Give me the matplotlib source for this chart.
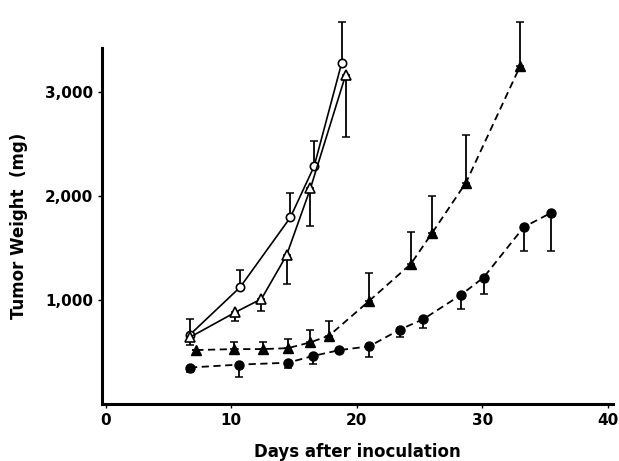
import numpy as np
import matplotlib
matplotlib.use('Agg')
import matplotlib.pyplot as plt
from matplotlib.ticker import FuncFormatter

plt.rcParams['font.family'] = ['Liberation Sans Narrow', 'DejaVu Sans']

# open circles, solid line (error bars up)
oc_x = [6.7, 10.7, 14.7, 16.6, 18.8]
oc_y = [665, 1121, 1791, 2284, 3279]
oc_up = [150, 167, 232, 242, 390]

# open triangles, solid line (error bars down)
ot_x = [6.7, 10.3, 12.4, 14.4, 16.3, 19.1]
ot_y = [640, 879, 1009, 1428, 2070, 3158]
ot_dn = [70, 84, 121, 279, 363, 595]

# filled triangles, dashed line (error bars up)
ft_x = [7.2, 10.2, 12.5, 14.5, 16.3, 17.8, 21.0, 24.3, 26.0, 28.7, 33.0]
ft_y = [517, 526, 526, 535, 591, 656, 991, 1344, 1642, 2126, 3242]
ft_up = [0, 65, 65, 84, 121, 139, 269, 307, 358, 455, 428]

# filled circles, dashed line (error bars down)
fc_x = [6.7, 10.6, 14.5, 16.5, 18.6, 21.0, 23.4, 25.3, 28.3, 30.1, 33.3, 35.5]
fc_y = [349, 377, 395, 460, 516, 553, 712, 814, 1047, 1214, 1698, 1837]
fc_dn = [47, 121, 55, 74, 20, 102, 65, 84, 131, 158, 233, 372]

fig = plt.figure(figsize=(6.19, 4.61), dpi=100)
ax = fig.add_axes([0.165, 0.124, 0.825, 0.772])

z = lambda n: [0] * n
ekw = dict(fmt='none', ecolor='black', elinewidth=1.3, capsize=3, capthick=1.1, zorder=2)

bars = [
    ax.errorbar(oc_x, oc_y, yerr=[z(len(oc_y)), oc_up], **ekw),
    ax.errorbar(ot_x, ot_y, yerr=[ot_dn, z(len(ot_y))], **ekw),
    ax.errorbar(ft_x, ft_y, yerr=[z(len(ft_y)), ft_up], **ekw),
    ax.errorbar(fc_x, fc_y, yerr=[fc_dn, z(len(fc_y))], **ekw),
]
for cont in bars:
    for art in cont.get_children():
        art.set_clip_on(False)

ax.plot(oc_x, oc_y, 'o-', color='black', lw=1.2, ms=6, mfc='white', mew=1.2, zorder=3)
ax.plot(ot_x, ot_y, '^-', color='black', lw=1.2, ms=7, mfc='white', mew=1.2, zorder=3)
ax.plot(ft_x, ft_y, '^--', color='black', lw=1.3, ms=7, mfc='black', dashes=(4, 2.5), zorder=3)
ax.plot(fc_x, fc_y, 'o--', color='black', lw=1.3, ms=6.5, mfc='black', dashes=(4, 2.5), zorder=3)

ax.set_xlim(-0.3, 40.4)
ax.set_ylim(0, 3420)
ax.set_xticks([0, 10, 20, 30, 40])
ax.set_yticks([1000, 2000, 3000])
ax.yaxis.set_major_formatter(FuncFormatter(lambda v, p: f'{int(v):,}'))

ax.spines['top'].set_visible(False)
ax.spines['right'].set_visible(False)
ax.spines['left'].set_linewidth(2.2)
ax.spines['bottom'].set_linewidth(2.2)
ax.tick_params(axis='both', direction='out', length=3, width=1, labelsize=11)
for lab in ax.get_xticklabels() + ax.get_yticklabels():
    lab.set_fontweight('bold')

ax.set_xlabel('Days after inoculation', fontsize=12, fontweight='bold', labelpad=11)
ax.set_ylabel('Tumor Weight  (mg)', fontsize=12, fontweight='bold', labelpad=12)

fig.savefig('out.png', dpi=100)
